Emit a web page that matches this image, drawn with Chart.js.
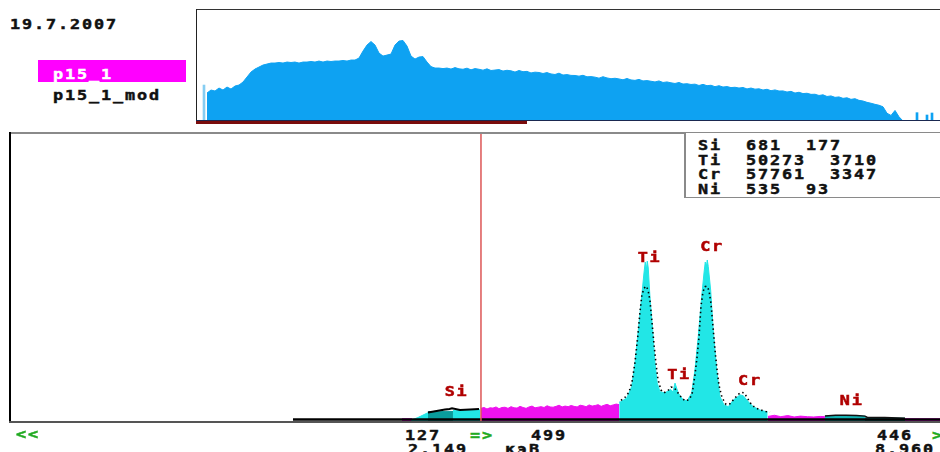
<!DOCTYPE html>
<html lang="ru"><head><meta charset="utf-8">
<script src="https://cdn.jsdelivr.net/npm/chart.js@4.4.1/dist/chart.umd.min.js"></script>
<style>
html,body{margin:0;padding:0;background:#fff;}
body{width:940px;height:452px;overflow:hidden;position:relative;}
.t{position:absolute;font-family:"DejaVu Sans Mono",monospace;font-weight:bold;font-size:14px;line-height:14px;letter-spacing:1.57px;white-space:pre;color:#111;transform:scaleX(1.2);transform-origin:0 0;-webkit-text-stroke:0.45px currentColor;}
.g{color:#22aa22;}
.b{position:absolute;}
canvas{position:absolute;}
</style></head><body>
<div class="t" style="left:10px;top:16.5px">19.7.2007</div>
<div class="b" style="left:38px;top:60px;width:148px;height:22px;background:#ff00ff"></div>
<div class="t" style="left:53px;top:66.5px;color:#fff">p15_1</div>
<div class="t" style="left:53px;top:87.7px">p15_1_mod</div>

<canvas id="top" width="743" height="111" style="left:197px;top:10px"></canvas>
<div class="b" style="left:195.5px;top:8.5px;width:744.5px;height:1.5px;background:#333"></div>
<div class="b" style="left:195.5px;top:8.5px;width:1.5px;height:113px;background:#222"></div>
<div class="b" style="left:196px;top:119.5px;width:744px;height:1.5px;background:#1a2850"></div>
<div class="b" style="left:196px;top:121px;width:331px;height:3px;background:#7a0c0c"></div>

<canvas id="main" width="929" height="287" style="left:11px;top:134px"></canvas>
<div class="b" style="left:9px;top:131.5px;width:931px;height:2px;background:#8a8a8a"></div>
<div class="b" style="left:9px;top:131.5px;width:2px;height:290.5px;background:#000"></div>
<div class="b" style="left:9px;top:421px;width:931px;height:1.5px;background:#555"></div>
<div class="b" style="left:684px;top:133px;width:256px;height:64px;background:#fff;border-left:2px solid #8a8a8a;border-bottom:1.5px solid #8a8a8a"></div>
<div id="info"></div>

<div class="t g" style="left:16px;top:427px">&lt;&lt;</div>
<div class="t" style="left:405px;top:427.7px">127</div>
<div class="t g" style="left:470px;top:427.7px">=&gt;</div>
<div class="t" style="left:531px;top:427.7px">499</div>
<div class="t" style="left:877px;top:427.7px">446</div>
<div class="t g" style="left:932px;top:427.7px">&gt;</div>
<div class="t" style="left:408px;top:442.4px">2.149</div>
<div class="t" style="left:505px;top:442.4px">кэВ</div>
<div class="t" style="left:875px;top:442.4px">8.960</div>

<script>
// ===== DATA =====
// Overview spectrum p15_1 (top panel): counts per bin
const topCounts = [
 252,279,270,297,279,306,288,315,324,351,
 396,441,468,486,504,513,522,522,527,522,
 531,527,531,522,531,531,536,531,540,531,
 540,536,540,540,545,540,549,549,567,630,
 684,716,684,612,585,594,603,684,720,725,
 675,585,558,576,580,531,490,477,477,472,
 477,468,481,470,466,476,461,472,466,458,
 470,455,459,463,450,457,452,441,455,444,
 447,433,440,437,428,436,424,419,431,414,
 418,411,410,404,412,398,400,395,386,399,
 388,381,385,379,371,383,370,366,375,361,
 364,358,352,361,347,352,344,338,347,333,
 336,329,332,320,330,318,322,309,318,306,
 310,301,304,297,302,289,297,287,290,279,
 286,273,280,270,271,261,267,252,259,247,
 250,240,241,230,236,221,226,213,217,204,
 209,195,201,186,180,168,160,150,142,128,
 70,50,95,38,0
];
const topSpikeBins = [-0.75, 177.5, 180, 181.25];
const topSpikeCounts = [324, 75, 54, 72];

// Main spectrum (keV / counts)
const cursorKeV = 2.149;
const magentaStartKeV = 2.149, magentaEndKeV = 4.118;
const magentaCounts = [44,47,42,46,45,49,43,47,48,44,50,46,45,51,47,44,49,52,46,48,50,47,53,49,48,51,55,49,52,50,54,51,49,55,53,50,56,52,54,57,51,55,58,53,56,59,57];

const peakKeV = [4.118,4.139,4.225,4.296,4.343,4.390,4.438,4.471,4.489,4.504,4.518,4.532,4.556,4.595,4.628,4.660,4.699,4.770,4.851,4.884,4.913,4.960,5.031,5.088,5.150,5.197,5.244,5.293,5.326,5.344,5.361,5.373,5.387,5.421,5.458,5.507,5.554,5.611,5.672,5.743,5.839,5.886,5.957,6.028,6.123,6.219,6.233];
const peakCounts = [66,67,80,120,202,317,433,516,554,526,557,533,433,317,202,132,102,98,110,101,132,97,73,71,97,178,294,433,516,554,540,561,538,456,317,178,85,56,50,73,91,88,67,50,38,32,32];

const fitKeV = [4.143,4.200,4.257,4.300,4.343,4.385,4.414,4.442,4.471,4.499,4.528,4.556,4.585,4.613,4.642,4.670,4.713,4.756,4.813,4.856,4.898,4.941,4.998,5.055,5.112,5.155,5.197,5.226,5.254,5.283,5.311,5.340,5.368,5.397,5.425,5.454,5.482,5.511,5.539,5.582,5.639,5.696,5.753,5.810,5.853,5.895,5.938,5.981,6.038,6.095,6.152,6.209,6.266];
const fitCounts = [72,82,100,135,205,300,380,440,462,470,458,420,345,270,200,145,108,98,106,118,117,103,84,70,74,92,160,220,290,400,450,468,470,455,410,330,250,180,125,82,58,60,76,92,100,98,83,64,50,42,37,33,30];

const siRampKeV = [1.155,1.25,1.394], siRampCounts = [3,12,29];
const siTealKeV = [1.394,1.45,1.55,1.65,1.750], siTealCounts = [32,33,32,34,33];
const siCyanKeV = [1.750,1.85,1.95,2.05,2.135], siCyanCounts = [37,38,37,38,39];
const siFitKeV = [1.394,1.536,1.636,1.700,1.736,1.850,1.992,2.121], siFitCounts = [30,36,40,42,44,38,40,42];
const lowMagKeV = [1.024,1.166], lowMagCounts = [8,8];

const niMagKeV = [6.237,6.33,6.42,6.52,6.61,6.70,6.80,6.89,6.98,7.049], niMagCounts = [16,20,15,19,14,17,15,14,16,15];
const niTealKeV = [7.049,7.2,7.35,7.5,7.619], niTealCounts = [17,18,19,18,17];
const tailTealKeV = [7.619,7.8,8.0,8.189], tailTealCounts = [11,11,10,10];
const tailMagKeV = [8.189,8.4,8.688], tailMagCounts = [8,8,8];
const niFitKeV = [7.049,7.2,7.35,7.5,7.619,7.65,7.9,8.189], niFitCounts = [17,20,20,19,17,13,12,10];
const baseKeV = [-0.529, 8.688], baseCounts = [5,5];

const peakLabelText = ['Si','Ti','Ti','Cr','Cr','Ni'];
const peakLabelKeV = [1.79,4.54,4.96,5.43,5.97,7.42];
const peakLabelCounts = [87,555,146,592,125,56];

const infoRows = [['Si','681','177'],['Ti','50273','3710'],['Cr','57761','3347'],['Ni','535','93']];

// ===== INFO BOX =====
const info = document.getElementById('info');
infoRows.forEach((r,i)=>{
  const d = document.createElement('div');
  d.className='t';
  d.style.left='698px';
  d.style.top=(138.4 + i*14.5)+'px';
  d.textContent = r[0] + '  ' + r[1].padEnd(r[1].length>3?5:3,' ') + '  ' + r[2];
  info.appendChild(d);
});

// ===== HELPERS =====
const pts = (xs, ys) => xs.map((x,i)=>({x, y: ys[i]}));
const CYAN='#22e6e6', TEAL='#0a9c9c', MAG='#ee12ee', BLUE='#0ea2f2';
const area = (data, color, order=5) => ({data, borderColor:color, backgroundColor:color, borderWidth:1, fill:'origin', order});
const base = {
  responsive:false, animation:false, events:[],
  layout:{padding:0},
  plugins:{legend:{display:false}, tooltip:{enabled:false}},
  elements:{point:{radius:0}, line:{tension:0}}
};

// ===== TOP CHART =====
new Chart(document.getElementById('top'), {
  type:'line',
  data:{datasets:[
    {data: topCounts.map((v,i)=>({x:i,y:v})), borderColor:BLUE, backgroundColor:BLUE, borderWidth:1, fill:'origin', order:2},
    {type:'bar', data: pts(topSpikeBins, topSpikeCounts), backgroundColor:['#86cdf2',BLUE,BLUE,BLUE], barThickness:2, grouped:false, order:1}
  ]},
  options:{...base, scales:{
    x:{type:'linear', display:false, offset:false, min:-2.5, max:183.25},
    y:{display:false, min:0, max:1000}
  }}
});

// ===== MAIN CHART =====
const magStep = (magentaEndKeV - magentaStartKeV)/(magentaCounts.length-1);
const peakLabelPlugin = {
  id:'peakLabels',
  afterDatasetsDraw(chart){
    const {ctx, scales:{x,y}} = chart;
    ctx.save();
    ctx.font = 'bold 14px "DejaVu Sans Mono"';
    ctx.fillStyle = '#b00000';
    ctx.strokeStyle = '#b00000';
    ctx.lineWidth = 0.5;
    ctx.textAlign = 'center';
    ctx.textBaseline = 'alphabetic';
    if ('letterSpacing' in ctx) ctx.letterSpacing = '1.5px';
    peakLabelText.forEach((t,i)=>{
      const px = x.getPixelForValue(peakLabelKeV[i]) + 0.8, py = y.getPixelForValue(peakLabelCounts[i]);
      ctx.save();
      ctx.translate(px, py);
      ctx.scale(1.2, 1);
      ctx.fillText(t, 0, 0);
      ctx.strokeText(t, 0, 0);
      ctx.restore();
    });
    ctx.restore();
  }
};

new Chart(document.getElementById('main'), {
  type:'line',
  data:{datasets:[
    {data: pts([cursorKeV,cursorKeV],[0,1000]), borderColor:'#dd5555', borderWidth:1.5, fill:false, order:0},
    {data: pts(baseKeV, baseCounts), borderColor:'#000', borderWidth:2.5, fill:false, order:1},
    {data: pts(fitKeV, fitCounts), borderColor:'#000', borderWidth:1.6, borderDash:[1.5,3], fill:false, order:2},
    {data: pts(siFitKeV, siFitCounts), borderColor:'#000', borderWidth:2, fill:false, order:2},
    {data: pts(niFitKeV, niFitCounts), borderColor:'#111', borderWidth:1.5, fill:false, order:2},
    area(pts(peakKeV, peakCounts), CYAN),
    area(magentaCounts.map((v,i)=>({x: magentaStartKeV + i*magStep, y:v})), MAG),
    area(pts(siRampKeV, siRampCounts), CYAN),
    area(pts(siTealKeV, siTealCounts), TEAL),
    area(pts(siCyanKeV, siCyanCounts), CYAN),
    area(pts(lowMagKeV, lowMagCounts), MAG),
    area(pts(niMagKeV, niMagCounts), MAG),
    area(pts(niTealKeV, niTealCounts), '#14b4b4'),
    area(pts(tailTealKeV, tailTealCounts), '#0a7070'),
    area(pts(tailMagKeV, tailMagCounts), MAG)
  ]},
  options:{...base, scales:{
    x:{type:'linear', display:false, min:-4.546, max:8.688},
    y:{display:false, min:0, max:1000}
  }},
  plugins:[peakLabelPlugin]
});
</script>
</body></html>
